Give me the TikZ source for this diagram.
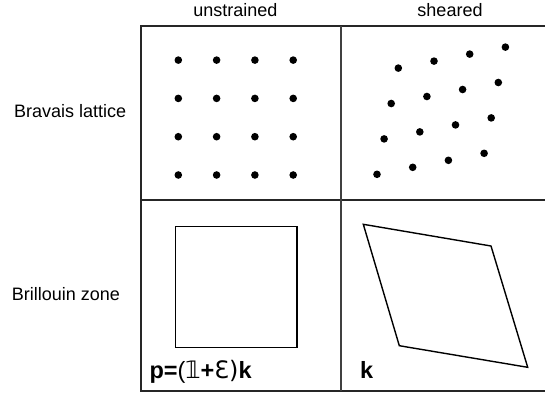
\documentclass[tikz,border=0pt]{standalone}
\usepackage{fontspec}
\setmainfont{Liberation Sans}
\newfontfamily\djv{DejaVu Sans}
\begin{document}
\begin{tikzpicture}[x=1pt,y=-1pt,
  gridline/.style={line width=1.3pt,draw=black!85},
  midline/.style={line width=1.6pt,draw=black!75},
  shapeline/.style={line width=1.4pt,draw=black,line join=miter},
  dot/.style={circle,fill=black,inner sep=0pt,minimum size=7.6pt},
  lbl/.style={font=\fontsize{18}{20}\selectfont,inner sep=0pt},
  blbl/.style={font=\fontsize{23.5}{25}\selectfont\bfseries,inner sep=0pt,anchor=base west}]
\useasboundingbox (0,0) rectangle (545,399);
% table
\draw[gridline] (545,26) -- (141,26) -- (141,391) -- (545,391);
\draw[gridline] (141,200) -- (545,200);
\draw[midline] (341,26) -- (341,391);
% headers
\node[lbl,anchor=base] (hu) at (235.3,16.5) {unstrained};
\node[lbl,anchor=base] (hs) at (450,16.5) {sheared};
\node[lbl,anchor=base west] (rb) at (14,117.3) {Bravais lattice};
\node[lbl,anchor=base west] (rz) at (11.7,300.7) {Brillouin zone};
% unstrained lattice
\foreach \i in {0,...,3}{
  \foreach \j in {0,...,3}{
    \node[dot] (u\i\j) at ({178.3+38.3*\i},{175-38.3*\j}) {};
  }
}
% sheared lattice
\foreach \i in {0,...,3}{
  \foreach \j in {0,...,3}{
    \node[dot] (s\i\j) at ({377+35.7*\i+7.1*\j},{174.3-7*\i-35.4*\j}) {};
  }
}
% Brillouin zones
\draw[shapeline] (175.7,226.7) rectangle (297,347.7);
\draw[shapeline] (363.3,224.3) -- (491,246) -- (527.7,367.3) -- (399.3,345.7) -- cycle;
% formulas
\node[blbl] (fp) at (149.3,378.3) {p={\mdseries(\djv\fontsize{24}{25}\selectfont 𝟙}+{\mdseries\djv\fontsize{24}{25}\selectfont Ɛ)}k};
\node[blbl] (fk) at (360,378.3) {k};
\end{tikzpicture}
\end{document}
